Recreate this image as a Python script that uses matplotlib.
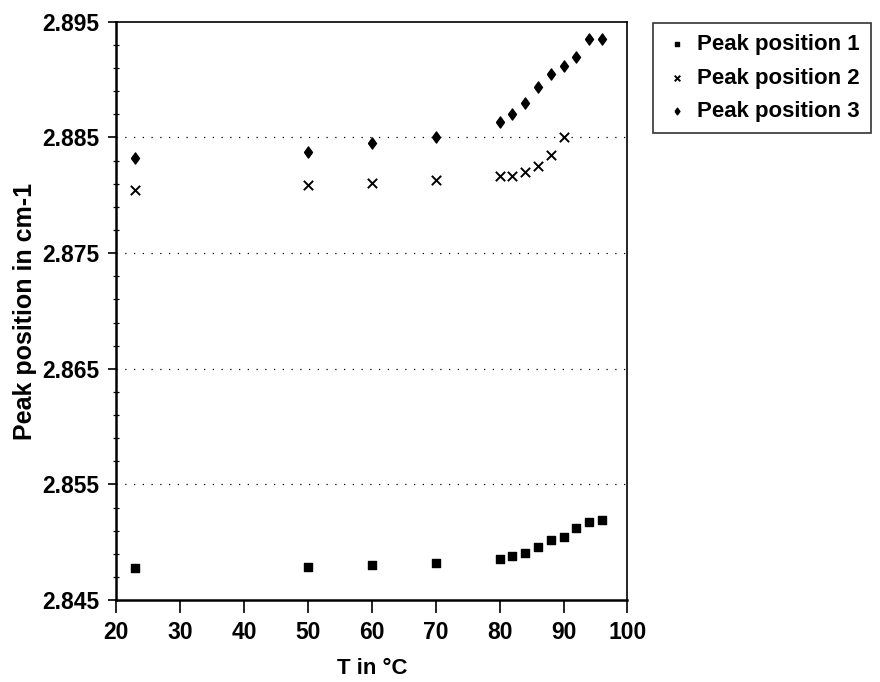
import numpy as np
import matplotlib.pyplot as plt
from matplotlib.ticker import FormatStrFormatter

plt.rcParams['font.family'] = ['Liberation Sans', 'DejaVu Sans']

# temperatures (°C)
t_all = [23, 50, 60, 70, 80, 82, 84, 86, 88, 90, 92, 94, 96]
t_p2 = [23, 50, 60, 70, 80, 82, 84, 86, 88, 90]

# peak positions
peak1 = [2.84777, 2.84785, 2.84806, 2.84817, 2.8486, 2.84883, 2.84912,
         2.84956, 2.85019, 2.85048, 2.8512, 2.8518, 2.85192]
peak2 = [2.88047, 2.88087, 2.88105, 2.88133, 2.88165, 2.88168, 2.88202,
         2.88257, 2.88347, 2.88502]
peak3 = [2.88326, 2.88375, 2.8845, 2.8850, 2.88635, 2.88704, 2.88796,
         2.88938, 2.8905, 2.89119, 2.89194, 2.8935, 2.8935]

yticks = [2.845, 2.855, 2.865, 2.875, 2.885, 2.895]
xticks = [20, 30, 40, 50, 60, 70, 80, 90, 100]

diamond = [(-0.72, 0), (0, 1), (0.72, 0), (0, -1), (-0.72, 0)]

fig = plt.figure(figsize=(8.8, 6.82), dpi=100)
ax = fig.add_axes([0.132, 0.12, 0.581, 0.848])

ax.scatter(t_all, peak1, marker='s', s=30, color='black', label='Peak position 1')
ax.scatter(t_p2, peak2, marker='x', s=45, color='black', linewidths=1.4, label='Peak position 2')
ax.scatter(t_all, peak3, marker=diamond, s=64, color='black', label='Peak position 3')

ax.set_xlim(20, 100)
ax.set_ylim(2.845, 2.895)
ax.set_xticks(xticks)
ax.set_yticks(yticks)
ax.set_yticks(np.arange(2.845, 2.8951, 0.002), minor=True)
ax.yaxis.set_major_formatter(FormatStrFormatter('%.3f'))

# dotted grid lines
for y in yticks[1:-1]:
    ax.axhline(y, color='black', linewidth=0.9, linestyle=(0, (1, 6)), zorder=0)

ax.tick_params(axis='x', which='major', direction='out', length=9, width=1.2,
               labelsize=16.5, pad=6, colors='black')
ax.tick_params(axis='y', which='major', direction='out', length=6, width=1.2,
               labelsize=16.5, pad=6, colors='black')
ax.tick_params(axis='y', which='minor', direction='inout', length=5, width=0.9)
for lab in ax.get_xticklabels() + ax.get_yticklabels():
    lab.set_fontweight('bold')

ax.spines['left'].set_linewidth(1.8)
ax.spines['bottom'].set_linewidth(1.8)
ax.spines['top'].set_linewidth(1.2)
ax.spines['right'].set_linewidth(1.2)

ax.set_xlabel('T in \u00b0C', fontsize=16, fontweight='bold', labelpad=10)
ax.set_ylabel('Peak position in cm-1', fontsize=18, fontweight='bold', labelpad=4)

leg = fig.legend(loc='upper left', bbox_to_anchor=(0.742, 0.966),
                 frameon=True, fancybox=False, edgecolor='black', handletextpad=0.3,
                 handlelength=1.2, markerscale=0.6, borderpad=0.5, labelspacing=0.55,
                 borderaxespad=0, prop={'weight': 'bold', 'size': 16})
leg.get_frame().set_linewidth(1.2)

fig.savefig('out.png', dpi=100)
